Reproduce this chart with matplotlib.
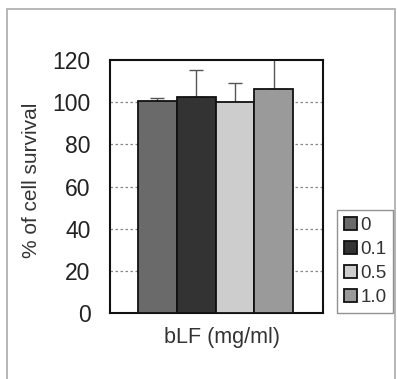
import matplotlib
matplotlib.use("Agg")
import matplotlib.pyplot as plt
from matplotlib.patches import Rectangle
import numpy as np

plt.rcParams['font.family'] = ['Liberation Sans', 'DejaVu Sans']

categories = ["0", "0.1", "0.5", "1.0"]
values = [100.5, 102.6, 99.9, 106.2]
errors = [1.5, 12.7, 9.2, 14.8]
colors = ["#6a6a6a", "#333333", "#cdcdcd", "#9a9a9a"]
yticks = [0, 20, 40, 60, 80, 100, 120]

W, H = 397, 379
fig = plt.figure(figsize=(W / 100, H / 100), dpi=100)

# outer frame
fig.patches.append(Rectangle((6.5 / W, -0.05), (395 - 6.5) / W, 1.05 - 9.5 / H,
                             transform=fig.transFigure, fill=False,
                             edgecolor="#aaaaaa", linewidth=1.2))

ax = fig.add_axes([110 / W, 1 - 313 / H, (323 - 110) / W, (313 - 60) / H])
x = np.arange(len(categories))
handles = []
for i in range(len(categories)):
    b = ax.bar(x[i], values[i], width=1.0, color=colors[i], edgecolor="#111111",
               linewidth=1.3, zorder=3, label=categories[i])
    ax.errorbar(x[i], values[i], yerr=[[0], [errors[i]]], fmt="none",
                ecolor="#555555", elinewidth=1.0, capsize=5, capthick=1.0,
                zorder=2)
    handles.append(b)

ax.set_xlim(-1.22, 4.27)
ax.set_ylim(0, 120)
ax.set_yticks(yticks)
ax.set_xticks([])
ax.tick_params(axis="y", length=0, pad=14, labelsize=16.5)
for t in ax.get_yticklabels():
    t.set_color("#222222")
for y in yticks[1:-1]:
    ax.axhline(y, color="#888888", linestyle=(0, (2, 2)), linewidth=0.9, zorder=1)
for s in ax.spines.values():
    s.set_linewidth(1.5)
    s.set_color("#111111")

fig.text(32 / W, 1 - 180 / H, "% of cell survival", rotation=90,
         ha="center", va="center", fontsize=15, color="#333333")
fig.text(222 / W, 1 - 337 / H, "bLF (mg/ml)", ha="center", va="center",
         fontsize=15.5, color="#333333")

leg = fig.legend(handles=handles, labels=categories, loc="upper left",
                 bbox_to_anchor=(337 / W, 1 - 210 / H), fontsize=13.5,
                 frameon=True, fancybox=False, handlelength=0.7,
                 handleheight=0.7, handletextpad=0.2, borderpad=0.35,
                 labelspacing=0.38, borderaxespad=0)
leg.get_frame().set_edgecolor("#777777")
leg.get_frame().set_linewidth(1.0)
for t in leg.get_texts():
    t.set_color("#333333")

fig.savefig("out.png", dpi=100)
